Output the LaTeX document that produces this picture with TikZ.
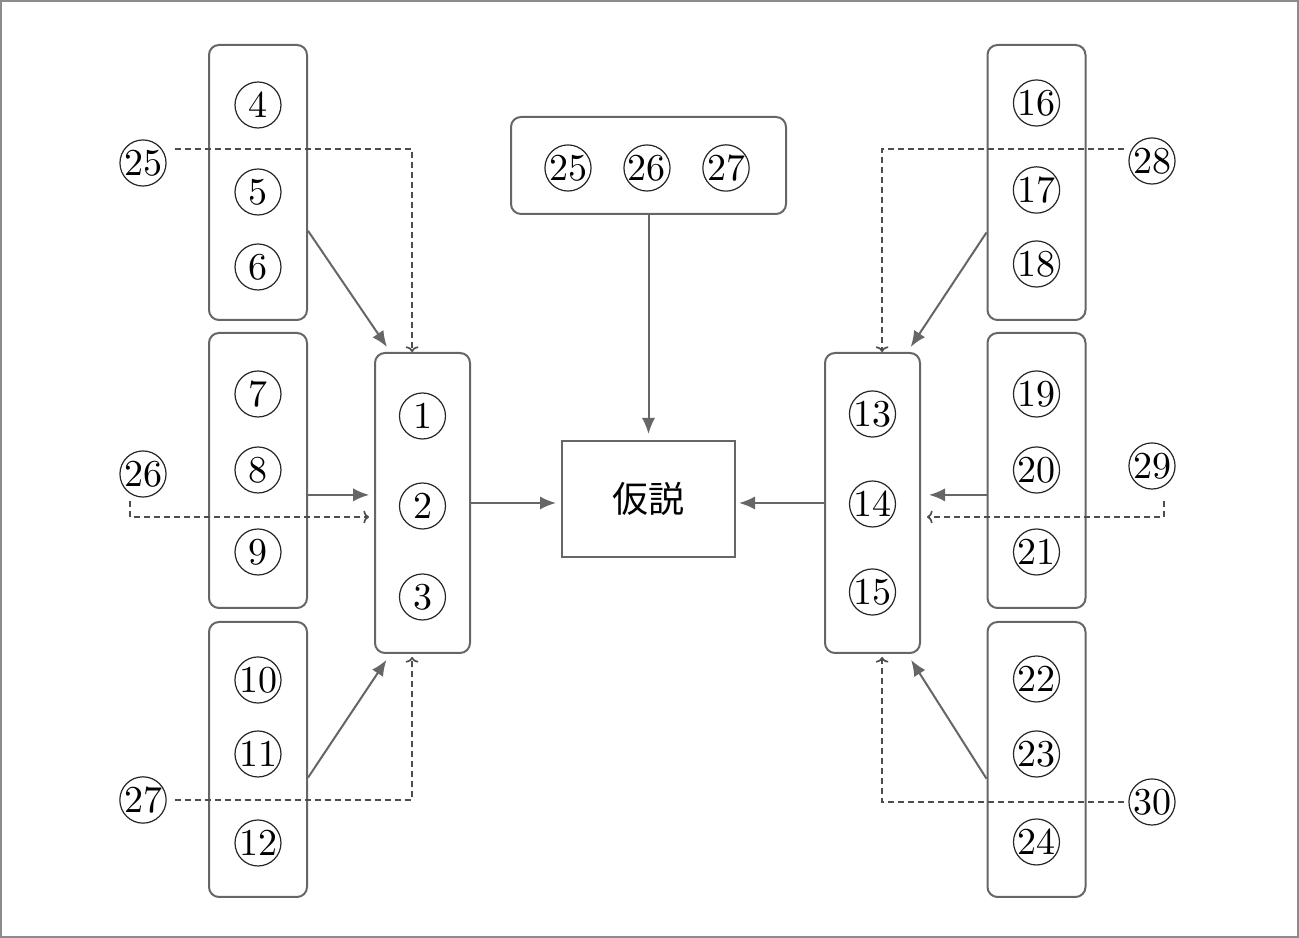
\documentclass[tikz,border=0pt]{standalone}
\usepackage{fontspec}
\newfontfamily\jpfont{Noto Sans CJK JP}
\usetikzlibrary{arrows.meta,calc}
\definecolor{linegray}{HTML}{666666}
\definecolor{dashgray}{HTML}{4D4D4D}
\tikzset{
grp/.style={draw=linegray,line width=0.5pt,rounded corners=2.5pt,minimum width=24.5pt,minimum height=68.75pt,inner sep=0},
mid/.style={grp,minimum width=23.75pt,minimum height=75pt},
num/.style={draw=black!85,line width=0.3pt,circle,minimum size=11.5pt,inner sep=0,font=\fontsize{9.5}{10}\selectfont},
arr/.style={draw=linegray,line width=0.5pt,-{Latex[length=4pt,width=3.3pt]}},
darr/.style={draw=dashgray,line width=0.42pt,dash pattern=on 1.5pt off 1pt,-{To[length=1.4pt,width=3.2pt]}}
}
\begin{document}
\begin{tikzpicture}[x=0.25pt,y=-0.25pt]
\useasboundingbox (0,0) rectangle (1299,938);
\draw[gray!90,line width=0.5pt] (1,1) rectangle (1298,937);
\node[grp] (gA) at (258,182.5) {};
\node[grp] (gB) at (258,470.5) {};
\node[grp] (gC) at (258,759.5) {};
\node[grp] (gD) at (1036.5,182.5) {};
\node[grp] (gE) at (1036.5,470.5) {};
\node[grp] (gF) at (1036.5,759.5) {};
\node[mid] (m1) at (422.5,503) {};
\node[mid] (m2) at (872.5,503) {};
\node[grp,minimum width=68.75pt,minimum height=24.25pt] (top) at (648.5,165.5) {};
\node[draw=linegray,line width=0.5pt,minimum width=43.25pt,minimum height=29pt,font=\jpfont\fontsize{9}{10}\selectfont] (hyp) at (648.5,499) {仮説};
\foreach \n/\y in {4/105,5/192,6/267,7/394,8/470,9/552,10/680,11/754,12/843}
\node[num] (c\n) at (258,\y) {\n};
\foreach \n/\y in {16/103,17/190,18/264,19/394,20/470,21/552,22/679,23/754,24/842}
\node[num] (c\n) at (1036.5,\y) {\n};
\foreach \n/\y in {1/416,2/506,3/597}
\node[num] (c\n) at (422.5,\y) {\n};
\foreach \n/\y in {13/414,14/504,15/592}
\node[num] (c\n) at (872.5,\y) {\n};
\foreach \n/\x in {25/568,26/647,27/726}
\node[num] (t\n) at (\x,168) {\n};
\foreach \n/\x/\y in {25/143/163,26/143/474,27/143/800,28/1152/161,29/1152/466,30/1152/802}
\node[num] (o\n) at (\x,\y) {\n};

\draw[arr,shorten >=1.5pt] (gA.-44) -- (m1.102.5);
\draw[arr,shorten >=1.2pt] ([yshift=-6.1pt]gB.east) -- ([yshift=-6.1pt]gB.east -| m1.west);
\draw[arr,shorten >=1.75pt] (gC.-20.7) -- (m1.-102.4);
\draw[darr] ([xshift=2pt,yshift=3.5pt]o25.east) -| ([xshift=-2.6pt]m1.north);
\draw[darr,shorten >=1.25pt] ([xshift=-3.25pt,yshift=-0.75pt]o26.south) |- ([yshift=-3.5pt]m1.west);
\draw[darr,shorten >=0.75pt] ([xshift=2pt]o27.east) -| ([xshift=-2.6pt]m1.south);

\draw[arr,shorten >=1.25pt] (m1.east) -- (m1.east -| hyp.west);
\draw[arr,shorten >=1.5pt] (top.south) -- (hyp.north);
\draw[arr,shorten >=0.75pt] (m2.west) -- (m2.west -| hyp.east);

\draw[arr,shorten >=1.5pt] (gD.-135.6) -- (m2.77.5);
\draw[arr,shorten >=2pt] ([yshift=-6.1pt]gE.west) -- ([yshift=-6.1pt]gE.west -| m2.east);
\draw[arr,shorten >=1.75pt] (gF.-159.1) -- (m2.-77.5);
\draw[darr] ([xshift=-1pt,yshift=3pt]o28.west) -| ([xshift=2.4pt]m2.north);
\draw[darr,shorten >=1.5pt] ([xshift=3pt,yshift=-2.75pt]o29.south) |- ([yshift=-3.5pt]m2.east);
\draw[darr,shorten >=0.75pt] ([xshift=-1pt]o30.west) -| ([xshift=2.4pt]m2.south);
\end{tikzpicture}
\end{document}
